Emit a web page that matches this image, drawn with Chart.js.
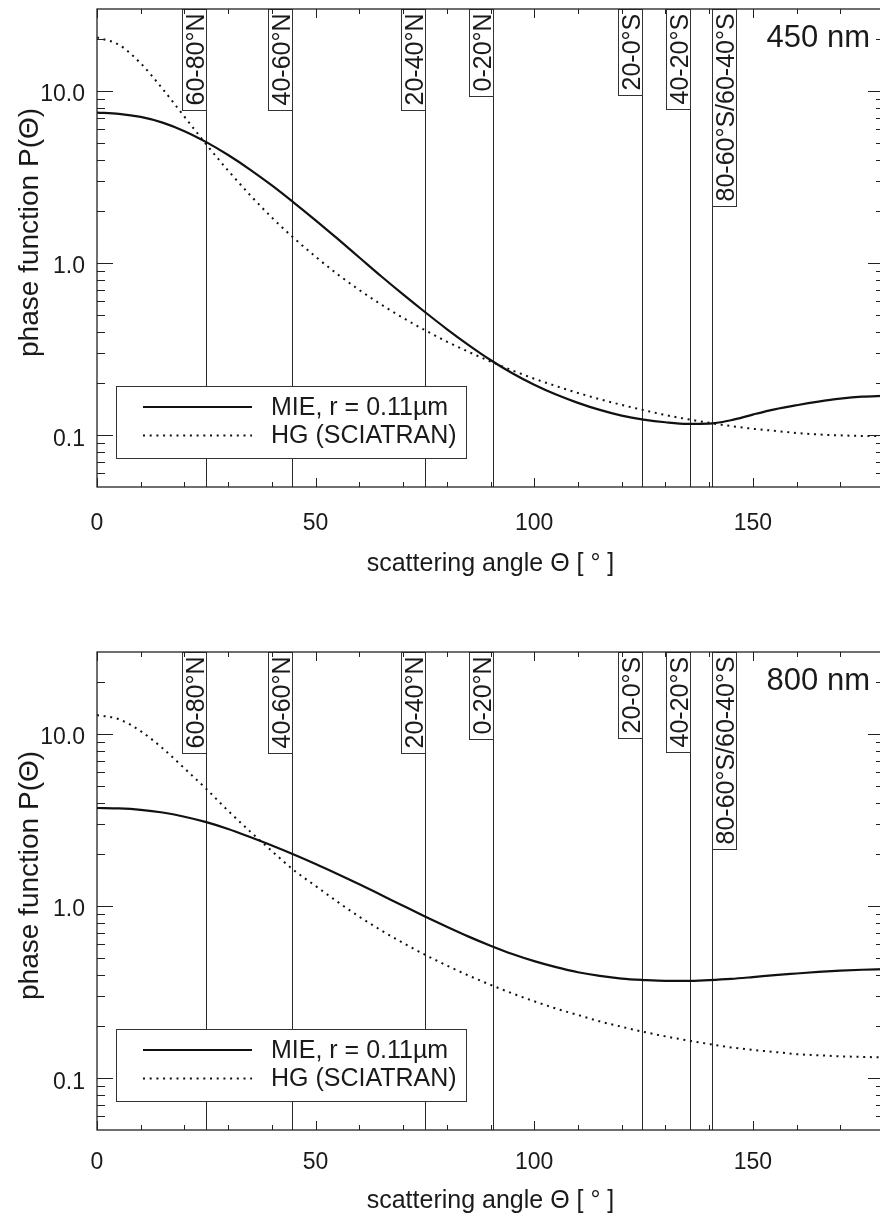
<!DOCTYPE html>
<html>
<head>
<meta charset="utf-8">
<title>Aerosol phase functions</title>
<script src="https://cdn.jsdelivr.net/npm/chart.js@4.4.1/dist/chart.umd.min.js"></script>
<style>
  html, body { margin: 0; padding: 0; background: #fff; overflow: hidden; width: 880px; height: 1217px; }
  .panel { position: absolute; left: 0; width: 890px; height: 580px; }
  #p450 { top: 0; }
  #p800 { top: 643px; }
</style>
</head>
<body>
<div class="panel" id="p450"><canvas id="c450"></canvas></div>
<div class="panel" id="p800"><canvas id="c800"></canvas></div>
<script>
// scattering angle grid [deg]
const angles = [0, 5, 10, 15, 20, 25, 30, 35, 40, 45, 50, 55, 60, 65, 70, 75, 80, 85, 90,
  95, 100, 105, 110, 115, 120, 125, 130, 135, 140, 145, 150, 155, 160, 165, 170, 175, 180];

// 450 nm phase functions
const mie450 = [7.50, 7.38, 7.08, 6.56, 5.85, 5.05, 4.25, 3.50, 2.83, 2.25, 1.774, 1.387, 1.079,
  0.839, 0.658, 0.520, 0.414, 0.334, 0.2735, 0.229, 0.1963, 0.1722, 0.1542, 0.1403, 0.130,
  0.1233, 0.1189, 0.1164, 0.1167, 0.1222, 0.1318, 0.1413, 0.1493, 0.1567, 0.163, 0.1675, 0.1694];
const hg450 = [20.5, 18.6, 14.5, 10.3, 7.1, 4.9, 3.45, 2.49, 1.84, 1.40, 1.09, 0.863, 0.698, 0.575,
  0.481, 0.408, 0.350, 0.305, 0.268, 0.238, 0.213, 0.193, 0.176, 0.162, 0.150, 0.140, 0.131,
  0.124, 0.118, 0.113, 0.109, 0.106, 0.103, 0.101, 0.0998, 0.099, 0.0987];

// 800 nm phase functions
const mie800 = [3.72, 3.70, 3.63, 3.50, 3.31, 3.08, 2.81, 2.52, 2.25, 1.995, 1.758, 1.538, 1.340,
  1.161, 1.005, 0.871, 0.759, 0.665, 0.589, 0.527, 0.479, 0.442, 0.413, 0.393, 0.379, 0.372,
  0.368, 0.368, 0.372, 0.378, 0.387, 0.397, 0.406, 0.415, 0.422, 0.427, 0.430];
const hg800 = [12.9, 12.2, 10.4, 8.27, 6.32, 4.8, 3.58, 2.72, 2.09, 1.62, 1.31, 1.06, 0.868, 0.723,
  0.611, 0.522, 0.452, 0.395, 0.349, 0.311, 0.280, 0.254, 0.233, 0.214, 0.199, 0.186, 0.175,
  0.166, 0.158, 0.151, 0.146, 0.142, 0.138, 0.136, 0.134, 0.133, 0.132];

// scattering angles of the latitude bands
const bandAngles = [25, 44.5, 75, 90.5, 124.7, 135.7, 140.7];
const bandLabels = ['60-80°N', '40-60°N', '20-40°N', '0-20°N', '20-0°S', '40-20°S', '80-60°S/60-40°S'];

// axis ticks
const xTickValues = [0, 50, 100, 150];
const yTickValues = [0.1, 1, 10];
const yTickText = ['0.1', '1.0', '10.0'];

const seriesNames = ['MIE, r = 0.11µm', 'HG (SCIATRAN)'];

const FONT = '"Liberation Sans", Arial, Helvetica, sans-serif';
const INK = '#1a1a1a';

function strokeLine(ctx, x1, y1, x2, y2) {
  ctx.beginPath();
  ctx.moveTo(x1, y1);
  ctx.lineTo(x2, y2);
  ctx.stroke();
}

// keep the plot box where the axes put it, without label overhang padding
function noOverhang(s) {
  s.paddingTop = 0;
  s.paddingBottom = 0;
  s.paddingLeft = 0;
  s.paddingRight = 0;
}

// band markers, labels, legend, frame and inward ticks
const panelDecor = {
  id: 'panelDecor',
  beforeDatasetsDraw(chart) {
    const { ctx, chartArea: a, scales: { x } } = chart;
    ctx.save();
    ctx.strokeStyle = '#2a2a2a';
    ctx.lineWidth = 1;
    bandAngles.forEach(v => {
      const px = Math.round(x.getPixelForValue(v)) + 0.5;
      strokeLine(ctx, px, a.top, px, a.bottom);
    });
    ctx.restore();
  },
  afterDatasetsDraw(chart, args, opts) {
    const { ctx, chartArea: a, scales: { x, y } } = chart;
    ctx.save();

    // latitude band labels
    ctx.font = `25px ${FONT}`;
    bandLabels.forEach((txt, i) => {
      const px = Math.round(x.getPixelForValue(bandAngles[i]));
      const w = 24;
      const h = Math.round(ctx.measureText(txt).width + 9);
      const left = i === bandLabels.length - 1 ? px : px - w;
      ctx.fillStyle = '#fff';
      ctx.fillRect(left, a.top, w, h);
      ctx.strokeStyle = '#333';
      ctx.lineWidth = 1;
      ctx.strokeRect(left + 0.5, a.top + 0.5, w, h);
      ctx.save();
      ctx.translate(left + w - 2.5, a.top + h - 4.5);
      ctx.rotate(-Math.PI / 2);
      ctx.fillStyle = INK;
      ctx.textAlign = 'left';
      ctx.textBaseline = 'alphabetic';
      ctx.fillText(txt, 0, 0);
      ctx.restore();
    });

    // legend
    const bx = a.left + 19, by = a.bottom - 101, bw = 350, bh = 72;
    ctx.fillStyle = '#fff';
    ctx.fillRect(bx, by, bw, bh);
    ctx.strokeStyle = '#333';
    ctx.lineWidth = 1;
    ctx.strokeRect(bx + 0.5, by + 0.5, bw, bh);
    chart.data.datasets.forEach((ds, i) => {
      const ly = by + 21 + i * 28.5;
      ctx.save();
      ctx.strokeStyle = ds.borderColor;
      ctx.lineWidth = ds.borderWidth;
      ctx.setLineDash(ds.borderDash || []);
      strokeLine(ctx, bx + 27, ly, bx + 136, ly);
      ctx.restore();
      ctx.fillStyle = INK;
      ctx.font = `25px ${FONT}`;
      ctx.textAlign = 'left';
      ctx.textBaseline = 'middle';
      ctx.fillText(ds.label, bx + 155, ly + 1);
    });

    // wavelength tag
    ctx.fillStyle = INK;
    ctx.font = `31px ${FONT}`;
    ctx.textAlign = 'right';
    ctx.textBaseline = 'alphabetic';
    ctx.fillText(opts.tag, a.right - 14, a.top + 38);

    // frame
    ctx.strokeStyle = '#222';
    ctx.lineWidth = 1.3;
    ctx.strokeRect(a.left, a.top, a.right - a.left, a.bottom - a.top);

    // inward ticks
    ctx.lineWidth = 1;
    for (let v = x.min; v <= x.max; v += 10) {
      const px = Math.round(x.getPixelForValue(v)) + 0.5;
      const len = v % 50 === 0 ? 9 : 5;
      strokeLine(ctx, px, a.bottom, px, a.bottom - len);
      strokeLine(ctx, px, a.top, px, a.top + len);
    }
    const e0 = Math.floor(Math.log10(y.min)), e1 = Math.ceil(Math.log10(y.max));
    for (let e = e0; e <= e1; e++) {
      for (let m = 1; m <= 9; m++) {
        const v = m * Math.pow(10, e);
        if (v <= y.min * 1.0001 || v >= y.max * 0.9999) continue;
        const py = Math.round(y.getPixelForValue(v)) + 0.5;
        const len = m === 1 ? 16 : 8;
        strokeLine(ctx, a.left, py, a.left + len, py);
        strokeLine(ctx, a.right - len, py, a.right, py);
      }
    }
    ctx.restore();
  }
};

function makePanel(id, mie, hg, tag, labelGap, titleGap) {
  const toPoints = vals => angles.map((ang, i) => ({ x: ang, y: vals[i] }));
  return new Chart(document.getElementById(id), {
    type: 'line',
    data: {
      datasets: [
        {
          label: seriesNames[0], data: toPoints(mie),
          borderColor: '#111', borderWidth: 2.2, pointRadius: 0,
          cubicInterpolationMode: 'monotone', fill: false
        },
        {
          label: seriesNames[1], data: toPoints(hg),
          borderColor: '#111', borderWidth: 2, borderDash: [2, 4.7], pointRadius: 0,
          cubicInterpolationMode: 'monotone', fill: false
        }
      ]
    },
    options: {
      responsive: true,
      maintainAspectRatio: false,
      devicePixelRatio: 1,
      animation: false,
      events: [],
      layout: { padding: { top: 9, right: 6, left: 0, bottom: 0 } },
      plugins: {
        legend: { display: false },
        tooltip: { enabled: false },
        panelDecor: { tag }
      },
      scales: {
        x: {
          type: 'linear', min: 0, max: 180,
          afterFit: s => { s.height = 93; noOverhang(s); },
          afterBuildTicks: s => { s.ticks = xTickValues.map(v => ({ value: v })); },
          grid: { display: false, drawTicks: false },
          border: { display: false },
          ticks: {
            padding: labelGap, maxRotation: 0, autoSkip: false, color: INK,
            font: { family: FONT, size: 23 },
            callback: v => String(v)
          },
          title: {
            display: true, text: 'scattering angle Θ [ ° ]', color: INK,
            font: { family: FONT, size: 25 }, padding: { top: 0, bottom: titleGap }
          }
        },
        y: {
          type: 'logarithmic', min: 0.05, max: 30,
          afterFit: s => { s.width = 97; noOverhang(s); },
          afterBuildTicks: s => { s.ticks = yTickValues.map(v => ({ value: v })); },
          grid: { display: false, drawTicks: false },
          border: { display: false },
          ticks: {
            padding: 12, labelOffset: 4, autoSkip: false, color: INK,
            font: { family: FONT, size: 23 },
            callback: (v, i) => yTickText[i]
          },
          title: {
            display: true, text: '    phase function P(Θ)', color: INK,
            font: { family: FONT, size: 28 }, padding: { top: 13, bottom: 0 }
          }
        }
      }
    },
    plugins: [panelDecor]
  });
}

makePanel('c450', mie450, hg450, '450 nm', 23, 1);
makePanel('c800', mie800, hg800, '800 nm', 19, 7);
</script>
</body>
</html>
